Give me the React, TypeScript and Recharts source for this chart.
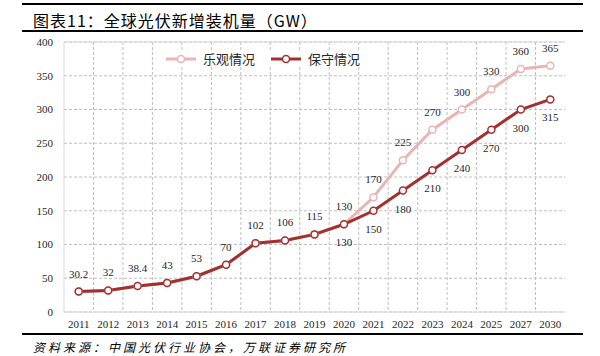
import React from "react";
import {
  LineChart,
  Line,
  XAxis,
  YAxis,
  CartesianGrid,
  ReferenceLine,
  LabelList,
} from "recharts";

const years = [
  "2011", "2012", "2013", "2014", "2015", "2016", "2017", "2018", "2019",
  "2020", "2021", "2022", "2023", "2024", "2025", "2027", "2030",
];
const optimistic = [30.2, 32, 38.4, 43, 53, 70, 102, 106, 115, 130, 170, 225, 270, 300, 330, 360, 365];
const conservative = [30.2, 32, 38.4, 43, 53, 70, 102, 106, 115, 130, 150, 180, 210, 240, 270, 300, 315];
const yTicks = [0, 50, 100, 150, 200, 250, 300, 350, 400];

const PINK = "#E8B5B4";
const DARK = "#A3302F";
const NUM_FONT = '"Liberation Serif", "Noto Sans CJK SC", serif';
const CJK_FONT = '"Noto Sans CJK SC", sans-serif';

const data = years.map((year, i) => ({
  year,
  optimistic: optimistic[i],
  conservative: conservative[i],
}));

// labels above the pink line
const TopLabel = (props: any) => {
  const { x, y, value } = props;
  return (
    <text x={x} y={y - 14} textAnchor="middle" fontSize={11} fill="#262626" fontFamily={NUM_FONT}>
      {String(value)}
    </text>
  );
};

// labels below the dark line, only once the two lines split
const BottomLabel = (props: any) => {
  const { x, y, value, index } = props;
  if (index < 9) return null;
  return (
    <text x={x} y={y + 22} textAnchor="middle" fontSize={11} fill="#262626" fontFamily={NUM_FONT}>
      {String(value)}
    </text>
  );
};

const LegendIcon = ({ color, x }: { color: string; x: number }) => (
  <g>
    <line x1={x} y1={0} x2={x + 30} y2={0} stroke={color} strokeWidth={3} />
    <circle cx={x + 15} cy={0} r={3.5} fill="#fff" stroke={color} strokeWidth={1.5} />
  </g>
);

export default function App() {
  return (
    <div style={{ position: "absolute", left: 0, top: 0, width: 600, height: 356, background: "#fff", overflow: "hidden" }}>
      <div style={{ position: "absolute", left: 22, top: 3, width: 561, height: 0, borderTop: "2px solid #000" }} />
      <div
        style={{
          position: "absolute",
          left: 33,
          top: 9,
          fontFamily: CJK_FONT,
          fontSize: 16,
          letterSpacing: 1,
          color: "#000",
          lineHeight: "22px",
          whiteSpace: "nowrap",
        }}
      >
        图表11：全球光伏新增装机量（GW）
      </div>
      <div style={{ position: "absolute", left: 22, top: 30, width: 561, height: 0, borderTop: "2.5px solid #000" }} />

      <div style={{ position: "absolute", left: 0, top: 0 }}>
        <LineChart width={600} height={356} data={data} margin={{ top: 42, right: 35, bottom: 24, left: 4 }}>
          <CartesianGrid
            stroke="#BFBFBF"
            strokeDasharray="3 2"
            verticalCoordinatesGenerator={({ offset }: any) =>
              years.slice(1).map((_, i) => offset.left + ((i + 1) * offset.width) / years.length)
            }
          />
          <XAxis
            dataKey="year"
            height={20}
            padding={{ left: 14.7, right: 14.7 }}
            axisLine={{ stroke: "#D9D9D9" }}
            tickLine={false}
            tickMargin={2}
            tick={{ fontSize: 11, fill: "#262626", fontFamily: NUM_FONT }}
            interval={0}
          />
          <YAxis
            width={60}
            domain={[0, 400]}
            ticks={yTicks}
            axisLine={{ stroke: "#D9D9D9" }}
            tickLine={false}
            tickMargin={5}
            tick={{ fontSize: 11, fill: "#262626", fontFamily: NUM_FONT }}
          />
          <YAxis yAxisId="r" orientation="right" width={0} tick={false} tickLine={false} axisLine={{ stroke: "#D9D9D9" }} />
          <ReferenceLine y={400} stroke="#D9D9D9" />
          <Line
            dataKey="optimistic"
            stroke={PINK}
            strokeWidth={3}
            dot={{ r: 3.5, fill: "#fff", stroke: PINK, strokeWidth: 1.5 }}
            isAnimationActive={false}
          >
            <LabelList dataKey="optimistic" content={TopLabel} />
          </Line>
          <Line
            dataKey="conservative"
            stroke={DARK}
            strokeWidth={3}
            dot={{ r: 3.5, fill: "#fff", stroke: DARK, strokeWidth: 1.5 }}
            isAnimationActive={false}
          >
            <LabelList dataKey="conservative" content={BottomLabel} />
          </Line>
        </LineChart>
      </div>

      <svg style={{ position: "absolute", left: 0, top: 50 }} width={400} height={18}>
        <g transform="translate(0,9)">
          <rect x={160} y={-8} width={208} height={16} fill="#fff" />
          <LegendIcon color={PINK} x={166} />
          <text x={203} y={5} fontSize={13} fontFamily={CJK_FONT} fill="#262626">乐观情况</text>
          <LegendIcon color={DARK} x={271} />
          <text x={308} y={5} fontSize={13} fontFamily={CJK_FONT} fill="#262626">保守情况</text>
        </g>
      </svg>

      <div style={{ position: "absolute", left: 22, top: 333, width: 561, height: 0, borderTop: "2.5px solid #000" }} />
      <div
        style={{
          position: "absolute",
          left: 33,
          top: 340,
          fontFamily: CJK_FONT,
          fontSize: 12,
          letterSpacing: 3,
          fontStyle: "italic",
          color: "#000",
          lineHeight: "14px",
          whiteSpace: "nowrap",
        }}
      >
        资料来源：中国光伏行业协会，万联证券研究所
      </div>
    </div>
  );
}
